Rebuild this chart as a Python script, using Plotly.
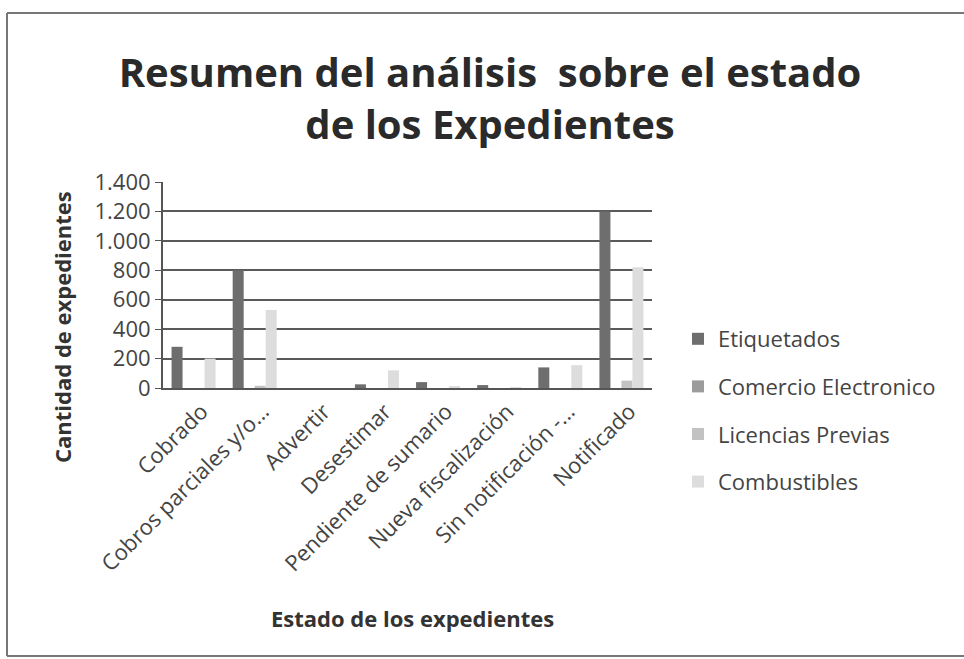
import plotly.graph_objects as go

# Estados de los expedientes (eje X)
categorias = [
    "Cobrado",
    "Cobros parciales y/o...",
    "Advertir",
    "Desestimar",
    "Pendiente de sumario",
    "Nueva fiscalización",
    "Sin notificación -...",
    "Notificado",
]

# Cantidad de expedientes por área
etiquetados = [280, 800, 0, 25, 40, 20, 140, 1200]
comercio_electronico = [0, 0, 0, 0, 0, 0, 0, 0]
licencias_previas = [0, 15, 0, 0, 0, 0, 0, 50]
combustibles = [200, 530, 0, 120, 10, 5, 155, 820]

y_ticks = [0, 200, 400, 600, 800, 1000, 1200, 1400]

series = [
    ("Etiquetados", etiquetados, "#6e6e6e"),
    ("Comercio Electronico", comercio_electronico, "#9c9c9c"),
    ("Licencias Previas", licencias_previas, "#c2c2c2"),
    ("Combustibles", combustibles, "#dddddd"),
]

FONT = "Open Sans"
W, H = 964, 659
L, R, T, B = 163, 652, 182, 388  # plot area in pixels

fig = go.Figure()
for name, vals, color in series:
    fig.add_trace(go.Bar(
        x=categorias, y=vals, name=name, legendgroup=name,
        marker=dict(color=color, line=dict(width=0)),
    ))


def px_x(p):
    return (p - L) / (R - L)


def px_y(p):
    return (B - p) / (B - T)


# outer chart frame: top, left and bottom edges
frame = dict(color="#777777", width=2)
for x0, y0, x1, y1 in [(7, 13, W + 5, 13), (7, 13, 7, 656), (7, 656, W + 5, 656)]:
    fig.add_shape(type="line", xref="paper", yref="paper",
                  x0=px_x(x0), y0=px_y(y0), x1=px_x(x1), y1=px_y(y1),
                  line=frame, layer="below")

# axis titles
fig.add_annotation(
    text="<b>Cantidad de expedientes</b>", xref="paper", yref="paper",
    x=px_x(62), y=px_y(327), xanchor="center", yanchor="middle",
    textangle=-90, showarrow=False,
    font=dict(family=FONT, size=22, color="#333333"),
)
fig.add_annotation(
    text="<b>Estado de los expedientes</b>", xref="paper", yref="paper",
    x=px_x(412), y=px_y(618), xanchor="center", yanchor="middle",
    showarrow=False,
    font=dict(family=FONT, size=22, color="#333333"),
)

fig.update_layout(
    width=W, height=H,
    margin=dict(l=L, r=W - R, t=T, b=H - B),
    paper_bgcolor="white", plot_bgcolor="white",
    separators=",.",
    barmode="group", bargap=0.28, bargroupgap=0,
    font=dict(family=FONT, color="#333333"),
    title=dict(
        text="<b>Resumen del análisis  sobre el estado<br>de los Expedientes</b>",
        x=490 / W, xanchor="center", y=1 - 87 / H, yanchor="middle",
        font=dict(family=FONT, size=40, color="#2a2a2a"),
    ),
    legend=dict(
        x=px_x(678), xanchor="left", y=px_y(318), yanchor="top",
        font=dict(family=FONT, size=22, color="#444444"),
        tracegroupgap=16, itemwidth=30, bgcolor="rgba(0,0,0,0)",
    ),
    showlegend=True,
)

fig.update_xaxes(
    tickangle=-45, tickfont=dict(size=22, color="#444444"),
    ticklabelshift=8, ticklabelstandoff=0,
    showline=True, linecolor="#555555", linewidth=2, automargin=False,
)
fig.update_yaxes(
    range=[0, 1400], tickvals=y_ticks, tickformat=",d",
    tickfont=dict(size=22, color="#444444"),
    showgrid=True, gridcolor="#5a5a5a", gridwidth=2,
    showline=True, linecolor="#555555", linewidth=2,
    ticks="outside", ticklen=6, tickcolor="#555555",
    zeroline=False, automargin=False,
)

fig.write_html("out.html")
